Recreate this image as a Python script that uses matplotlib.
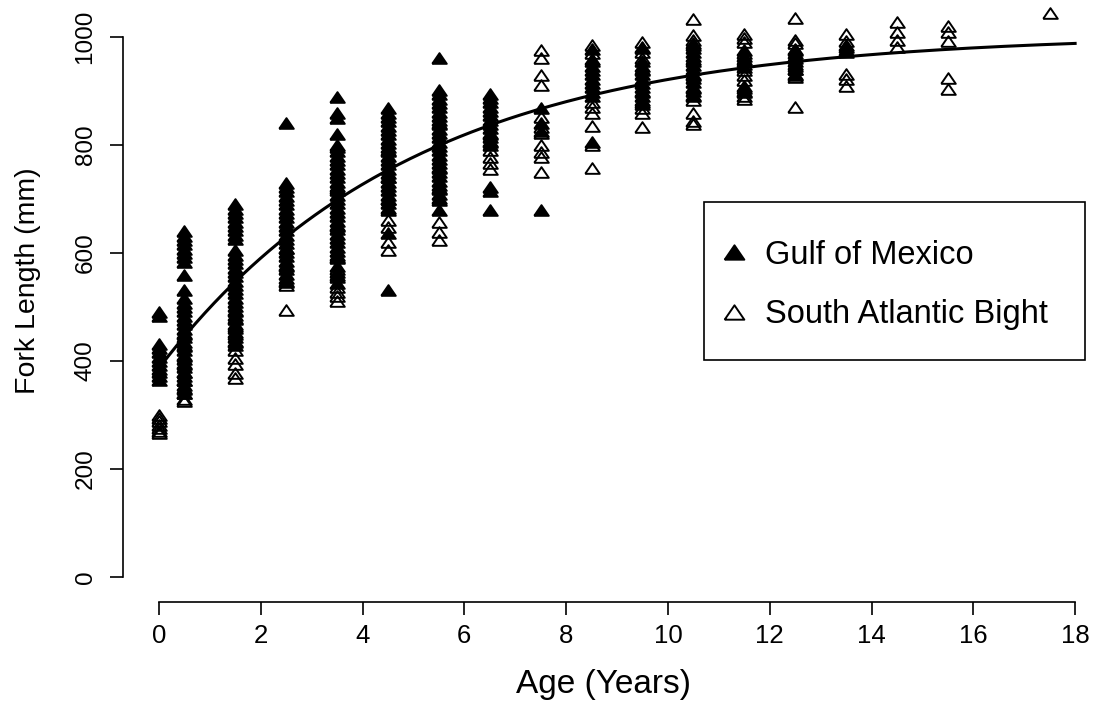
import numpy as np
import matplotlib
matplotlib.use("Agg")
import matplotlib.pyplot as plt
from matplotlib.patches import Rectangle

plt.rcParams['font.family'] = ['Liberation Sans', 'DejaVu Sans']

# ages (years) of each column of points
gom_ages = [0, 0.5, 1.5, 2.5, 3.5, 4.5, 5.5, 6.5, 7.5, 8.5, 9.5, 10.5, 11.5, 12.5, 13.5]
gom_fl = [
    [490, 483, 432, 424, 416, 408, 400, 393, 386, 379, 372, 365],
    [640, 632, 624, 616, 608, 600, 592, 584, 560, 532, 516, 508, 500, 492, 484, 476, 468,
     460, 452, 444, 436, 428, 420, 412, 404, 396, 388, 380, 372, 364, 356, 348, 340],
    [690, 682, 674, 666, 658, 650, 642, 634, 626, 605, 597, 589, 581, 573, 565, 557, 549,
     541, 533, 525, 517, 509, 501, 493, 485, 477, 469, 461, 453, 445, 437, 430],
    [841, 730, 722, 714, 706, 698, 690, 682, 674, 666, 658, 650, 642, 634, 626, 618, 610,
     602, 594, 586, 578, 570, 562, 554, 546],
    [889, 860, 850, 820, 796, 788, 780, 772, 764, 756, 748, 740, 732, 724, 716, 708, 700,
     692, 684, 676, 668, 660, 652, 644, 636, 628, 620, 612, 604, 596, 590, 575, 565, 555, 545],
    [868, 860, 852, 844, 836, 828, 820, 812, 804, 796, 788, 780, 772, 764, 756, 748, 740,
     732, 724, 716, 708, 700, 692, 684, 680, 637, 531],
    [961, 902, 894, 886, 878, 870, 862, 854, 846, 838, 830, 822, 814, 806, 798, 790, 782,
     774, 766, 758, 750, 742, 734, 726, 718, 710, 702, 698, 680],
    [895, 887, 879, 871, 863, 855, 847, 839, 831, 823, 815, 807, 800, 722, 715, 680],
    [868, 840, 825, 680],
    [978, 955, 947, 939, 931, 923, 915, 907, 899, 891, 806],
    [980, 955, 947, 939, 931, 923, 915, 907, 899, 891, 883, 875],
    [988, 980, 972, 964, 956, 948, 940, 932, 924, 916, 908, 900, 892],
    [975, 965, 955, 945, 905, 898],
    [978, 970, 962, 955, 947, 940, 932],
    [982, 972],
]

sab_ages = [0, 0.5, 1.5, 2.5, 3.5, 4.5, 5.5, 6.5, 7.5, 8.5, 9.5, 10.5, 11.5, 12.5, 13.5,
            14.5, 15.5, 17.5]
sab_fl = [
    [300, 294, 288, 282, 276, 270, 266],
    [450, 430, 410, 395, 380, 365, 350, 340, 330, 325],
    [495, 480, 465, 450, 435, 420, 405, 395, 378, 368],
    [610, 575, 548, 540, 494],
    [800, 720, 650, 593, 570, 560, 537, 528, 520, 512],
    [790, 740, 700, 661, 648, 620, 605],
    [840, 760, 720, 657, 639, 624],
    [820, 805, 790, 778, 766, 756],
    [976, 961, 930, 911, 852, 833, 822, 800, 787, 778, 750],
    [985, 970, 960, 880, 870, 860, 835, 800, 757],
    [990, 982, 972, 962, 940, 900, 880, 868, 860, 833],
    [1033, 1003, 995, 985, 960, 930, 905, 890, 884, 860, 845, 838],
    [1005, 998, 990, 970, 960, 950, 938, 930, 920, 910, 900, 890, 885],
    [1035, 994, 988, 975, 965, 950, 940, 930, 925, 870],
    [1005, 992, 985, 975, 932, 922, 910],
    [1028, 1010, 995, 982],
    [1020, 1010, 993, 924, 903],
    [1044],
]

# von Bertalanffy fit
linf = 1005
k = 0.2
t0 = -2.43

gx = [a for a, v in zip(gom_ages, gom_fl) for _ in v]
gy = [y for v in gom_fl for y in v]
sx = [a for a, v in zip(sab_ages, sab_fl) for _ in v]
sy = [y for v in sab_fl for y in v]

tri = [(-1, -0.73), (1, -0.73), (0, 0.73), (-1, -0.73)]

fig = plt.figure(figsize=(10.97, 7.06), dpi=100)
W, H = 1097, 706
ax = fig.add_axes([123 / W, (H - 602) / H, 974 / W, 602 / H])

ax.plot(gx, gy, linestyle='none', marker=tri, ms=10.5, mfc='black', mec='black', mew=1.4,
        label='Gulf of Mexico')
ax.plot(sx, sy, linestyle='none', marker=tri, ms=10.5, mfc='none', mec='black', mew=1.4,
        label='South Atlantic Bight')

t = np.linspace(0, 18, 300)
ax.plot(t, linf * (1 - np.exp(-k * (t - t0))), color='black', lw=2.2)

ax.set_xlim(-0.707, 18.43)
ax.set_ylim(-46.3, 1068.5)

for s in ['top', 'right']:
    ax.spines[s].set_visible(False)
ax.spines['left'].set_bounds(0, 1000)
ax.spines['bottom'].set_bounds(0, 18)
ax.spines['left'].set_linewidth(1.2)
ax.spines['bottom'].set_linewidth(1.2)

ax.set_xticks(range(0, 19, 2))
ax.set_yticks(range(0, 1001, 200))
ax.tick_params(axis='both', direction='out', length=9.5, width=1.2, colors='black')
ax.tick_params(axis='x', labelsize=18.5, pad=6.5)
ax.tick_params(axis='y', labelsize=17.5, pad=9.5, labelrotation=90)
for lab in ax.get_yticklabels():
    lab.set_va('center')

ax.set_xlabel('Age (Years)', fontsize=24)
ax.xaxis.set_label_coords((604 - 123) / 974, -(684 - 602) / 602)
ax.xaxis.label.set_va('center')
ax.set_ylabel('Fork Length (mm)', fontsize=20.5)
ax.yaxis.set_label_coords((28 - 123) / 974, (602 - 281) / 602)
ax.yaxis.label.set_va('center')

leg = ax.legend(loc='center left', bbox_to_anchor=(704 / W, 1 - 285 / H),
                bbox_transform=fig.transFigure, frameon=False, fontsize=23.5,
                borderpad=0, handlelength=0.86, handletextpad=0.52,
                labelspacing=0.87, markerscale=1.35, numpoints=1)
fig.add_artist(Rectangle((704 / W, 1 - 360 / H), 381 / W, 158 / H,
                         transform=fig.transFigure, fill=False, lw=1.2, ec='black'))

fig.savefig('out.png', dpi=100)
